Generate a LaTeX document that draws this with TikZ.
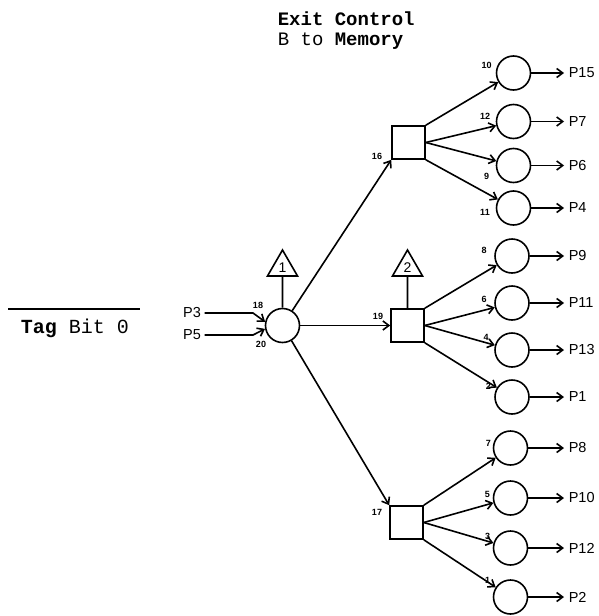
\documentclass[tikz,border=0pt]{standalone}
\usepackage{fontspec}
\newfontfamily\monof{Liberation Mono}
\newfontfamily\sansf{Liberation Sans}
\usetikzlibrary{arrows.meta,shapes.geometric}
\begin{document}
\begin{tikzpicture}[x=1pt,y=-1pt,
  line width=1.6pt,
  arr/.style={-{Straight Barb[length=6pt,width=9pt]}},
  gate/.style={circle,draw,minimum size=34pt,inner sep=0pt},
  gbox/.style={rectangle,draw,minimum size=33pt,inner sep=0pt},
  tri/.style={regular polygon,regular polygon sides=3,draw,minimum size=34.6pt,inner sep=0pt,font=\sansf\fontsize{14}{14}\selectfont},
  num/.style={font=\sansf\bfseries\fontsize{9}{9}\selectfont,inner sep=0pt},
  pl/.style={font=\sansf\fontsize{14.5}{14.5}\selectfont,inner sep=0pt},
  ttl/.style={anchor=base west,inner sep=0pt,font=\monof\fontsize{19}{19}\selectfont},
]
\useasboundingbox (0,0) rectangle (599,616);

% titles
\node[ttl] (title1) at (277,25) {\bfseries Exit Control};
\node[ttl] (title2) at (277,45) {B to \textbf{Memory}};
\node[ttl,font=\monof\fontsize{20}{20}\selectfont] (tag) at (20,333) {\textbf{Tag} Bit 0};
\draw[line width=2.2pt] (8,309) -- (140,309);

% central gate
\node[gate] (c0) at (282.5,325.5) {};
\node[tri] (t1) at (282.5,267.3) {1};
\draw (t1.south) -- (c0);

% inputs
\node[pl] (p3) at (192,313) {P3};
\node[pl] (p5) at (192,335) {P5};
\draw[arr] (p3.east) ++(3,0) -- (253,313) -- (c0.168);
\draw[arr] (p5.east) ++(3,0) -- (253,335) -- (c0.191);
\node[num] (n18) at (258,305) {18};
\node[num] (n20) at (261,344) {20};

% boxes
\node[gbox] (b16) at (408.5,142.5) {};
\node[gbox] (b19) at (407.5,325.5) {};
\node[gbox] (b17) at (406.5,522.5) {};
\node[tri] (t2) at (407.5,267.3) {2};
\draw (t2.south) -- (b19);
\node[num] (n16) at (377,156) {16};
\node[num] (n19) at (378,316) {19};
\node[num] (n17) at (377,512) {17};

\draw[arr] (c0) -- (b16.south west);
\draw[arr] (c0) -- (b19);
\draw[arr] (c0) -- (b17.north west);

% output gates
\foreach \n/\x/\y/\p in {10/513.5/73/P15,12/513.5/121.5/P7,9/513.5/165.5/P6,11/513.5/208/P4,
                         8/512/256/P9,6/512/303/P11,4/512/350/P13,2/512/397/P1,
                         7/510.5/448/P8,5/510.5/498/P10,3/510.5/548/P12,1/510.5/597/P2}{
  \node[gate] (c\n) at (\x,\y) {};
  \node[pl,anchor=west,inner xsep=4pt] (o\n) at (564,\y) {\p};
  \draw[arr] (c\n) -- (o\n.west);
}

\foreach \n/\x/\y in {10/486.7/65,12/485/116.7,9/486.7/176.7,11/485/212.7,
                      8/484/250.7,6/484/299.3,4/486/337.3,2/488.3/386,
                      7/488.3/443.3,5/487.3/494,3/487.7/536.7,1/487.7/580.7}{
  \node[num] (m\n) at (\x,\y) {\n};
}

\draw[arr] (b16.north east) -- (c10);
\draw[arr] (b16.east) -- (c12);
\draw[arr] (b16.east) -- (c9);
\draw[arr] (b16.south east) -- (c11);

\draw[arr] (b19.north east) -- (c8);
\draw[arr] (b19.east) -- (c6);
\draw[arr] (b19.east) -- (c4);
\draw[arr] (b19.south east) -- (c2);

\draw[arr] (b17.north east) -- (c7);
\draw[arr] (b17.east) -- (c5);
\draw[arr] (b17.east) -- (c3);
\draw[arr] (b17.south east) -- (c1);
\end{tikzpicture}
\end{document}
